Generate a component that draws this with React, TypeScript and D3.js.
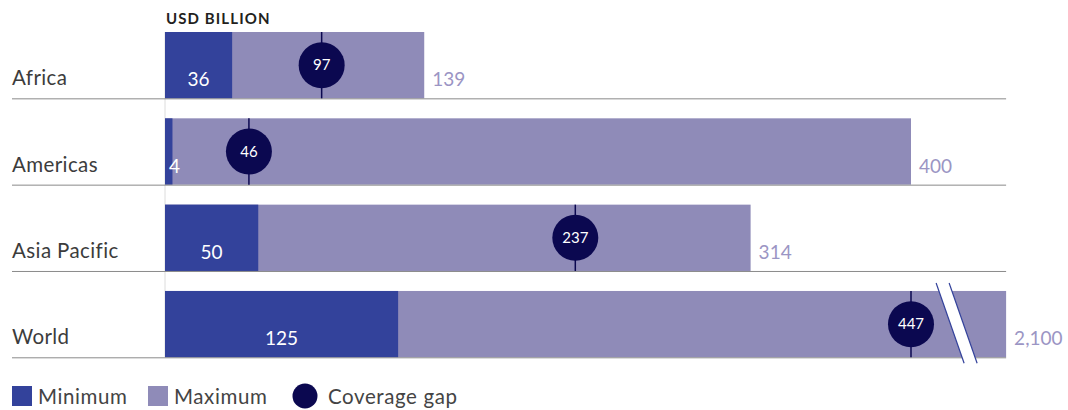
import React, { useEffect, useRef } from "react";
import * as d3 from "d3";

const regions = ["Africa", "Americas", "Asia Pacific", "World"];
const minimum = [36, 4, 50, 125];
const maximum = [139, 400, 314, 2100];
const coverageGap = [97, 46, 237, 447];
// where the gap marker sits on the (drawn) axis
const gapMarkAt = [84, 45, 220, 400];
const maxLabels = ["139", "400", "314", "2,100"];
// the World bar is cut with a break at this axis value
const axisBreakValue = 451;

const legendItems = ["Minimum", "Maximum", "Coverage gap"];

const W = 1068;
const H = 410;
const FONT = "Lato, 'Open Sans', sans-serif";
const MIN_COL = "#33429b";
const MAX_COL = "#8f8bb8";
const GAP_COL = "#0b0850";

const App: React.FC = () => {
  const svgRef = useRef<SVGSVGElement>(null);

  useEffect(() => {
    const root = d3.select(svgRef.current);
    root.selectAll("*").remove();
    const svg = root.attr("width", W).attr("height", H);

    const x = d3.scaleLinear().domain([0, 400]).range([165, 911]);
    const y = d3
      .scaleBand<string>()
      .domain(regions)
      .range([32, 357.3])
      .paddingInner(0.2316)
      .paddingOuter(0);
    const bw = y.bandwidth();

    // light axis line at zero
    svg
      .append("line")
      .attr("x1", x(0))
      .attr("x2", x(0))
      .attr("y1", y(regions[0])!)
      .attr("y2", y(regions[3])! + bw)
      .attr("stroke", "#dcdcdc")
      .attr("stroke-width", 1);

    // header
    svg
      .append("text")
      .attr("x", x(0) + 1)
      .attr("y", 24)
      .attr("font-family", FONT)
      .attr("font-weight", 700)
      .attr("font-size", 15)
      .attr("letter-spacing", 1.1)
      .attr("fill", "#231f20")
      .text("USD BILLION");

    regions.forEach((r, i) => {
      const top = y(r)!;
      const bottom = top + bw;
      const maxEnd = x(Math.min(maximum[i], axisBreakValue));

      // max bar
      svg
        .append("rect")
        .attr("x", x(0))
        .attr("y", top)
        .attr("width", maxEnd - x(0))
        .attr("height", bw)
        .attr("fill", MAX_COL);

      // min bar
      svg
        .append("rect")
        .attr("x", x(0))
        .attr("y", top)
        .attr("width", x(minimum[i]) - x(0))
        .attr("height", bw)
        .attr("fill", MIN_COL);

      // baseline separator
      svg
        .append("line")
        .attr("x1", 12)
        .attr("x2", x(axisBreakValue))
        .attr("y1", bottom + 0.5)
        .attr("y2", bottom + 0.5)
        .attr("stroke", "#8a8a8a")
        .attr("stroke-width", 1);

      // region label
      svg
        .append("text")
        .attr("x", 12)
        .attr("y", bottom - 13)
        .attr("font-family", FONT)
        .attr("font-size", 20.5)
        .attr("letter-spacing", 0.4)
        .attr("fill", "#3c3c3c")
        .text(r);

      // min value label
      const minW = x(minimum[i]) - x(0);
      svg
        .append("text")
        .attr("x", minW < 30 ? x(0) + 4 : x(0) + minW / 2)
        .attr("y", bottom - 12)
        .attr("text-anchor", minW < 30 ? "start" : "middle")
        .attr("font-family", FONT)
        .attr("font-size", 19)
        .attr("fill", "#ffffff")
        .text(minimum[i]);

      // max value label
      svg
        .append("text")
        .attr("x", x(Math.min(maximum[i], axisBreakValue)) + 8)
        .attr("y", bottom - 12)
        .attr("font-family", FONT)
        .attr("font-size", 19)
        .attr("fill", "#9b95c4")
        .text(maxLabels[i]);

      // break marker on the truncated bar
      if (maximum[i] > axisBreakValue) {
        const bx = x(axisBreakValue) - 70;
        const g = svg.append("g");
        g.append("polygon")
          .attr(
            "points",
            [
              [bx, top - 8],
              [bx + 13, top - 8],
              [bx + 41, bottom + 6],
              [bx + 28, bottom + 6],
            ]
              .map((p) => p.join(","))
              .join(" ")
          )
          .attr("fill", "#ffffff");
        [0, 13].forEach((d) => {
          g.append("line")
            .attr("x1", bx + d)
            .attr("y1", top - 8)
            .attr("x2", bx + d + 28)
            .attr("y2", bottom + 6)
            .attr("stroke", MIN_COL)
            .attr("stroke-width", 1.2);
        });
      }

      // coverage gap marker
      const cx = x(gapMarkAt[i]);
      const cy = top + bw / 2;
      svg
        .append("line")
        .attr("x1", cx)
        .attr("x2", cx)
        .attr("y1", top)
        .attr("y2", bottom)
        .attr("stroke", GAP_COL)
        .attr("stroke-width", 1.5);
      svg.append("circle").attr("cx", cx).attr("cy", cy).attr("r", 23).attr("fill", GAP_COL);
      svg
        .append("text")
        .attr("x", cx)
        .attr("y", cy)
        .attr("dy", "0.35em")
        .attr("text-anchor", "middle")
        .attr("font-family", FONT)
        .attr("font-size", 15)
        .attr("fill", "#ffffff")
        .text(coverageGap[i]);
    });

    // legend
    const lg = svg.append("g").attr("transform", "translate(12, 397)");
    const offsets = [0, 136, 281];
    legendItems.forEach((name, i) => {
      const g = lg.append("g").attr("transform", `translate(${offsets[i]},0)`);
      if (i < 2) {
        g.append("rect")
          .attr("x", 0)
          .attr("y", -11)
          .attr("width", 20)
          .attr("height", 20)
          .attr("fill", i === 0 ? MIN_COL : MAX_COL);
      } else {
        g.append("circle").attr("cx", 12).attr("cy", -1).attr("r", 12.5).attr("fill", GAP_COL);
      }
      g.append("text")
        .attr("x", i < 2 ? 26 : 35)
        .attr("y", 0)
        .attr("dy", "0.35em")
        .attr("font-family", FONT)
        .attr("font-size", 20.5)
        .attr("letter-spacing", 0.6)
        .attr("fill", "#444444")
        .text(name);
    });
  }, []);

  return (
    <svg
      ref={svgRef}
      style={{ position: "absolute", left: 0, top: 0, background: "#ffffff" }}
    />
  );
};

export default App;
